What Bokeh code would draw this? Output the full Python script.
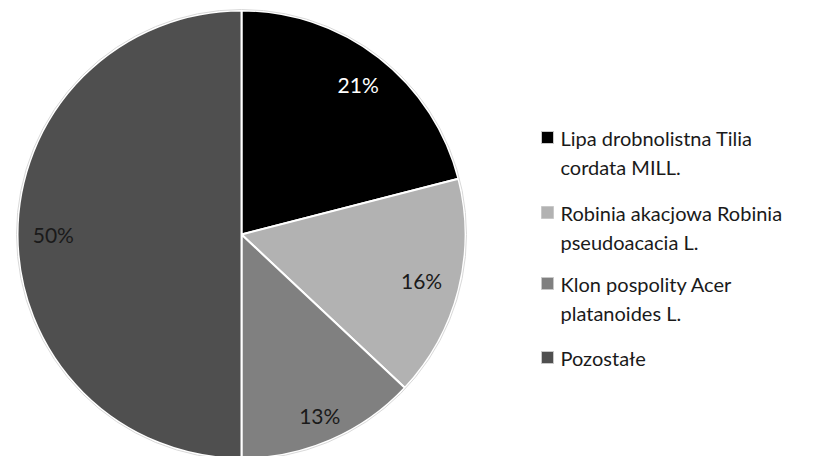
import math
from bokeh.plotting import figure
from bokeh.models import ColumnDataSource
from bokeh.core.properties import value
from bokeh.embed import file_html
from bokeh.resources import INLINE

# ---- data ----
categories = [
    "Lipa drobnolistna Tilia\ncordata MILL.",
    "Robinia akacjowa Robinia\npseudoacacia L.",
    "Klon pospolity Acer\nplatanoides L.",
    "Pozostałe",
]
shares = [21, 16, 13, 50]
pct_labels = ["21%", "16%", "13%", "50%"]

# ---- style ----
colors = ["#000000", "#b2b2b2", "#808080", "#4f4f4f"]
label_colors = ["#ffffff", "#1a1a1a", "#1a1a1a", "#1a1a1a"]
label_r = [0.85, 0.83, 0.88, 0.84]
FONT = "Lato"

W, H = 806, 456
# data coordinates == reference image pixels (x), y flipped
p = figure(width=W, height=H, x_range=(0, W), y_range=(0, H),
           output_backend="svg", toolbar_location=None, min_border=0)
p.axis.visible = False
p.grid.visible = False
p.outline_line_color = None
p.background_fill_color = "white"
p.border_fill_color = "white"

def Y(y_img):
    return H - y_img

cx, cy, R = 241, Y(234), 224

total = sum(shares)
starts, ends, lx, ly = [], [], [], []
cum = 0.0
for i, s in enumerate(shares):
    a0 = math.pi / 2 - 2 * math.pi * cum / total
    cum += s
    a1 = math.pi / 2 - 2 * math.pi * cum / total
    starts.append(a0)
    ends.append(a1)
    mid = (a0 + a1) / 2
    lx.append(cx + R * label_r[i] * math.cos(mid))
    ly.append(cy + R * label_r[i] * math.sin(mid))

src = ColumnDataSource(dict(start=starts, end=ends, color=colors,
                            lx=lx, ly=ly, lab=pct_labels, lc=label_colors))
p.wedge(x=cx, y=cy, radius=R, start_angle="start", end_angle="end",
        direction="clock", fill_color="color", line_color="white",
        line_width=2, source=src)
p.circle(x=cx, y=cy, radius=R + 1, fill_color=None, line_color="#d9d9d9", line_width=1)
p.text(x="lx", y="ly", text="lab", text_color="lc", source=src,
       text_font=value(FONT), text_font_size="21px",
       text_align="center", text_baseline="middle")

# ---- legend ----
leg_x_sq = 547
leg_x_txt = 560
item_y = [137, 212, 283, 357]
line_gap = 29
sq_x, sq_y, sq_c = [], [], []
tx, ty, tt = [], [], []
for i, cat in enumerate(categories):
    sq_x.append(leg_x_sq)
    sq_y.append(Y(item_y[i]))
    sq_c.append(colors[i])
    for j, line in enumerate(cat.split("\n")):
        tx.append(leg_x_txt)
        ty.append(Y(item_y[i] + j * line_gap))
        tt.append(line)

p.scatter(x=sq_x, y=sq_y, marker="square", size=12, fill_color=sq_c,
          line_color="#c8c8c8", line_width=1)
p.text(x=tx, y=ty, text=tt, text_color="#1a1a1a", text_font=value(FONT),
       text_font_size="20px", text_align="left", text_baseline="middle")

open("out.html", "w").write(file_html(p, INLINE))
